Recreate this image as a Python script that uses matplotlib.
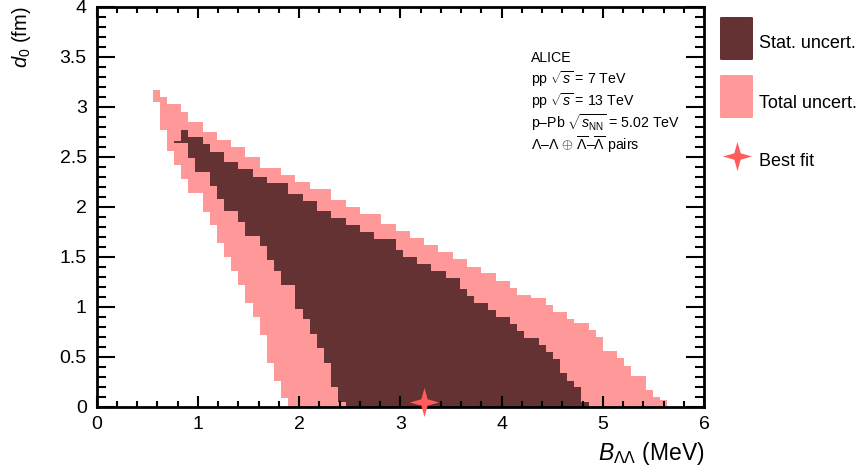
import numpy as np
import matplotlib.pyplot as plt
from matplotlib.path import Path
from matplotlib.patches import FancyBboxPatch
from matplotlib.ticker import MultipleLocator, FuncFormatter

plt.rcParams['font.family'] = ['Liberation Sans', 'DejaVu Sans']
plt.rcParams['mathtext.fontset'] = 'custom'
plt.rcParams['mathtext.rm'] = 'Liberation Sans'
plt.rcParams['mathtext.it'] = 'Liberation Sans:italic'
plt.rcParams['mathtext.bf'] = 'Liberation Sans:bold'

# B_LL binning of the scan (MeV)
b_first_edge = 0.553
b_bin_width = 0.0706
n_bins = 72

# total uncertainty region, lower / upper d0 (fm) per B bin
total_lo = [3.05, 2.767, 2.56, 2.417, 2.28, 2.133, 2.133, 1.95, 1.817, 1.637,
            1.50, 1.36, 1.217, 1.04, 0.893, 0.717, 0.44, 0.26, 0.083,
            0, 0, 0, 0, 0, 0, 0, 0, 0, 0, 0, 0, 0, 0, 0, 0, 0, 0, 0, 0, 0,
            0, 0, 0, 0, 0, 0, 0, 0, 0, 0, 0, 0, 0, 0, 0, 0, 0, 0, 0, 0, 0,
            0, 0, 0, 0, 0, 0, 0, 0, 0, 0, 0]
total_hi = [3.167, 3.10, 3.03, 3.03, 2.95, 2.845, 2.845, 2.745, 2.745, 2.67,
            2.67, 2.60, 2.60, 2.495, 2.495, 2.39, 2.39, 2.39, 2.317, 2.317,
            2.243, 2.243, 2.177, 2.177, 2.177, 2.07, 2.07, 2.0, 2.0, 1.927,
            1.927, 1.927, 1.827, 1.827, 1.755, 1.755, 1.683, 1.683, 1.617, 1.617,
            1.543, 1.543, 1.473, 1.473, 1.40, 1.40, 1.333, 1.333, 1.26, 1.26,
            1.19, 1.117, 1.117, 1.083, 1.083, 1.017, 0.945, 0.945, 0.873, 0.833,
            0.833, 0.767, 0.693, 0.555, 0.555, 0.483, 0.41, 0.307, 0.307, 0.167,
            0.095, 0.065]

# statistical uncertainty region, bins 3..60
stat_first_bin = 3
stat_lo = [2.633, 2.633, 2.487, 2.345, 2.345, 2.205, 2.08, 1.96, 1.96, 1.85,
           1.708, 1.708, 1.608, 1.463, 1.36, 1.217, 1.217, 0.975, 0.873, 0.723,
           0.583, 0.44, 0.20, 0.05,
           0, 0, 0, 0, 0, 0, 0, 0, 0, 0, 0, 0, 0, 0, 0, 0, 0, 0, 0, 0, 0,
           0, 0, 0, 0, 0, 0, 0, 0, 0, 0, 0, 0, 0]
stat_hi = [2.66, 2.767, 2.693, 2.693, 2.627, 2.55, 2.55, 2.45, 2.45, 2.373,
           2.373, 2.30, 2.30, 2.233, 2.233, 2.233, 2.13, 2.13, 2.06, 2.06,
           1.955, 1.955, 1.883, 1.883, 1.813, 1.813, 1.743, 1.743, 1.675, 1.675,
           1.675, 1.567, 1.50, 1.50, 1.427, 1.427, 1.357, 1.357, 1.283, 1.283,
           1.177, 1.107, 1.04, 1.04, 0.967, 0.893, 0.893, 0.827, 0.757, 0.683,
           0.683, 0.613, 0.543, 0.473, 0.333, 0.26, 0.193, 0.05]

best_fit_B = 3.23
best_fit_d0 = 0.05

col_stat = '#643232'
col_total = '#ff9898'
col_star = '#ff5c5c'

# 4 pointed star marker
star_verts = [(0, 1), (0.22, 0.22), (1, 0), (0.22, -0.22), (0, -1),
              (-0.22, -0.22), (-1, 0), (-0.22, 0.22), (0, 1)]
star = Path(star_verts)

edges = b_first_edge + b_bin_width*np.arange(n_bins + 1)
s0 = stat_first_bin
stat_edges = edges[s0:s0 + len(stat_hi) + 1]

fig = plt.figure(figsize=(8.65, 4.72), dpi=100)
ax = fig.add_axes([0.1116, 0.1383, 0.7023, 0.8475])

ax.stairs(total_hi, edges, baseline=total_lo, fill=True, color=col_total, lw=0)
ax.stairs(stat_hi, stat_edges, baseline=stat_lo, fill=True, color=col_stat, lw=0)
ax.plot([best_fit_B], [best_fit_d0], ls='none', marker=star, ms=21,
        color=col_star, mec='none', clip_on=False, zorder=5)

ax.set_xlim(0, 6)
ax.set_ylim(0, 4)
ax.xaxis.set_major_locator(MultipleLocator(1))
ax.xaxis.set_minor_locator(MultipleLocator(0.2))
ax.yaxis.set_major_locator(MultipleLocator(0.5))
ax.yaxis.set_minor_locator(MultipleLocator(0.1))
fmt = FuncFormatter(lambda v, p: '%g' % v)
ax.xaxis.set_major_formatter(fmt)
ax.yaxis.set_major_formatter(fmt)

for sp in ax.spines.values():
    sp.set_linewidth(2)
ax.tick_params(which='both', direction='in', top=True, right=True, width=1.5,
               labelsize=14, pad=7)
ax.tick_params(axis='y', which='major', length=13)
ax.tick_params(axis='y', which='minor', length=6.5)
ax.tick_params(axis='x', which='major', length=8)
ax.tick_params(axis='x', which='minor', length=4)

ax.set_xlabel(r'$B_{\Lambda\Lambda}$ (MeV)', fontsize=16.5, ha='right',
              va='baseline')
ax.xaxis.set_label_coords(1.0, -0.133)
ax.set_ylabel(r'$d_{0}$ (fm)', fontsize=14.5, ha='right')
ax.yaxis.set_label_coords(-0.105, 1.0)

# ALICE text block
lines = ['ALICE',
         r'pp $\sqrt{s}$ = 7 TeV',
         r'pp $\sqrt{s}$ = 13 TeV',
         r'p–Pb $\sqrt{s_{\rm NN}}$ = 5.02 TeV',
         r'$\Lambda$–$\Lambda$ $\oplus$ $\overline{\Lambda}$–$\overline{\Lambda}$ pairs']
for i, t in enumerate(lines):
    ax.text(0.7147, 0.8625 - i*0.055, t, transform=ax.transAxes, fontsize=10.2,
            va='baseline', ha='left')

# legend, outside on the right
fw, fh = 865, 472
def px_box(x0, y0, x1, y1, color):
    b = FancyBboxPatch((x0/fw, 1 - y1/fh), (x1 - x0)/fw, (y1 - y0)/fh,
                       boxstyle='round,pad=0,rounding_size=0.002',
                       transform=fig.transFigure, facecolor=color,
                       edgecolor='none')
    fig.add_artist(b)

px_box(720, 17, 753, 60, col_stat)
px_box(720, 75, 753, 118, col_total)
fig.text(759/fw, 1 - 43/fh, 'Stat. uncert.', fontsize=13, va='center')
fig.text(759/fw, 1 - 103/fh, 'Total uncert.', fontsize=13, va='center')
fig.text(759/fw, 1 - 162/fh, 'Best fit', fontsize=13, va='center')
fig.add_artist(plt.Line2D([736.5/fw], [1 - 156/fh], ls='none', marker=star,
                          ms=21, color=col_star, mec='none',
                          transform=fig.transFigure))

fig.savefig('out.png', dpi=100)
